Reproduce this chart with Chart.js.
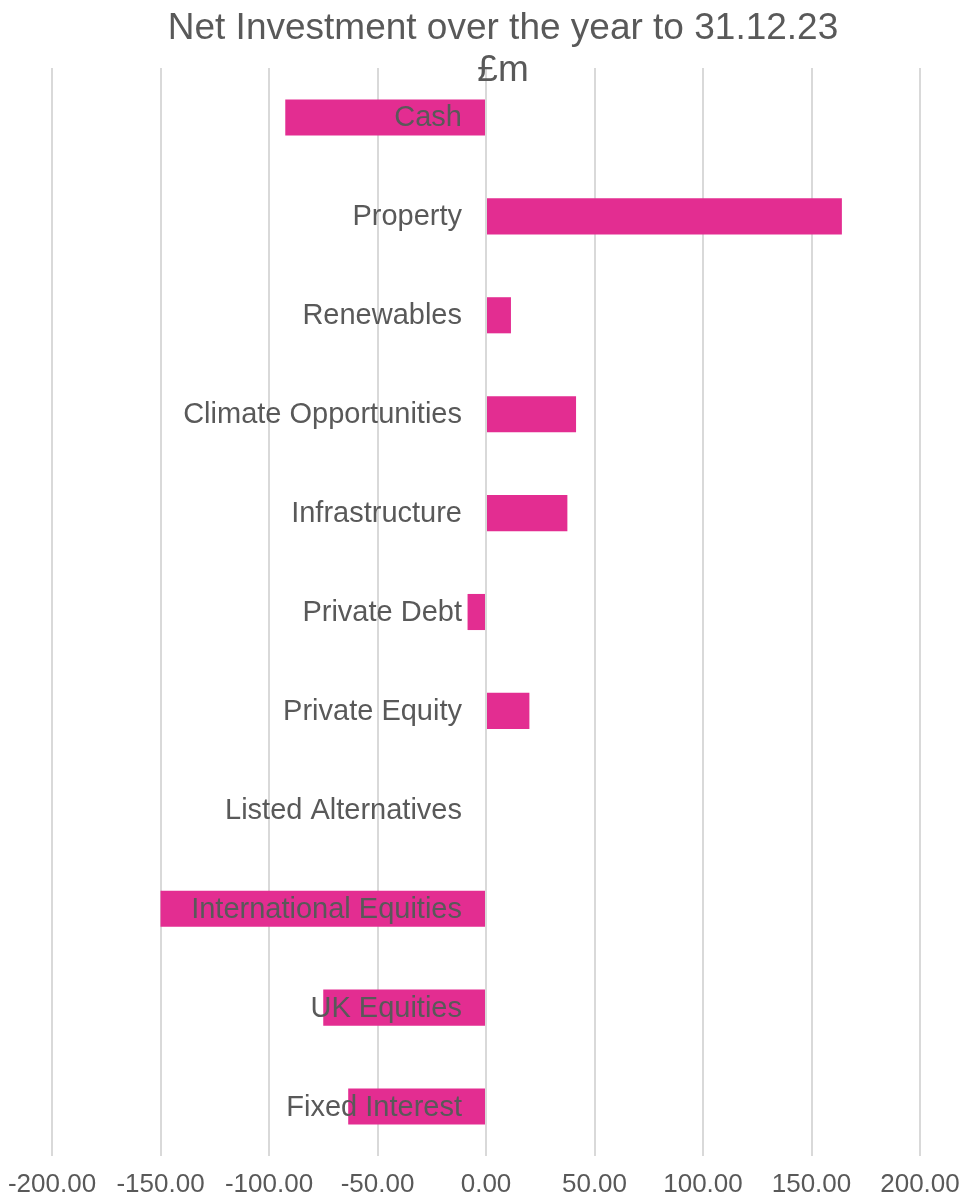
<!DOCTYPE html>
<html>
<head>
<meta charset="utf-8">
<script src="https://cdn.jsdelivr.net/npm/chart.js@4.4.1/dist/chart.umd.min.js"></script>
<style>
  html, body { margin: 0; padding: 0; background: #fff; }
  #wrap { width: 962px; height: 1198px; }
</style>
</head>
<body>
<div id="wrap"><canvas id="netChart"></canvas></div>
<script>
// Net investment by asset class, £m
const categories = [
    'Cash', 'Property', 'Renewables', 'Climate Opportunities', 'Infrastructure',
    'Private Debt', 'Private Equity', 'Listed Alternatives', 'International Equities',
    'UK Equities', 'Fixed Interest'
]
const netInvestment = [-92.5, 164, 11.5, 41.5, 37.5, -8.5, 20, 0, -150, -75, -63.5]
const xTicks = [-200, -150, -100, -50, 0, 50, 100, 150, 200]
const titleLines = ['Net Investment over the year to 31.12.23', '£m']

const textColor = '#595959'
const fontFamily = "'Liberation Sans', Arial, sans-serif"

// category names sit just left of the zero line, on top of the bars
const zeroLabels = {
    id: 'zeroLabels',
    afterDatasetsDraw(chart) {
        const {ctx, scales: {x, y}} = chart
        const x0 = x.getPixelForValue(0)
        ctx.save()
        ctx.font = '29px ' + fontFamily
        ctx.fillStyle = textColor
        ctx.textAlign = 'right'
        ctx.textBaseline = 'middle'
        categories.forEach((name, i) => {
            ctx.fillText(name, x0 - 24, y.getPixelForValue(i) + 1)
        })
        ctx.restore()
    }
}

// title overlaps the top of the grid, so it is drawn by hand
const topTitle = {
    id: 'topTitle',
    afterDraw(chart) {
        const {ctx} = chart
        ctx.save()
        ctx.font = '37px ' + fontFamily
        ctx.fillStyle = textColor
        ctx.textAlign = 'center'
        ctx.textBaseline = 'middle'
        titleLines.forEach((line, i) => {
            ctx.fillText(line, 503, 29 + i * 42)
        })
        ctx.restore()
    }
}

const ctx = document.getElementById('netChart').getContext('2d')

new Chart(ctx, {
    type: 'bar',
    data: {
        labels: categories,
        datasets: [
            {
                label: 'Net Investment (£m)',
                data: netInvestment,
                backgroundColor: '#E32D91',
                borderWidth: 0,
                categoryPercentage: 1,
                barPercentage: 0.365
            }
        ]
    },
    options: {
        indexAxis: 'y',
        responsive: true,
        maintainAspectRatio: false,
        animation: false,
        layout: {
            padding: {top: 68, left: 52, right: 42, bottom: 0}
        },
        plugins: {
            legend: {display: false},
            title: {display: false},
            tooltip: {enabled: false}
        },
        scales: {
            x: {
                min: -200,
                max: 200,
                afterBuildTicks: (scale) => {
                    scale.ticks = xTicks.map(v => ({value: v}))
                },
                // end labels may hang past the plot edges
                afterFit: (scale) => {
                    scale.paddingLeft = 0
                    scale.paddingRight = 0
                    scale.height = 42
                },
                grid: {
                    color: '#d9d9d9',
                    lineWidth: 2,
                    drawTicks: false
                },
                border: {display: false},
                ticks: {
                    color: textColor,
                    padding: 16,
                    maxRotation: 0,
                    font: {family: fontFamily, size: 26, lineHeight: 1},
                    callback: (value) => value.toFixed(2)
                }
            },
            y: {
                display: false,
                grid: {display: false}
            }
        }
    },
    plugins: [zeroLabels, topTitle]
})
</script>
</body>
</html>
